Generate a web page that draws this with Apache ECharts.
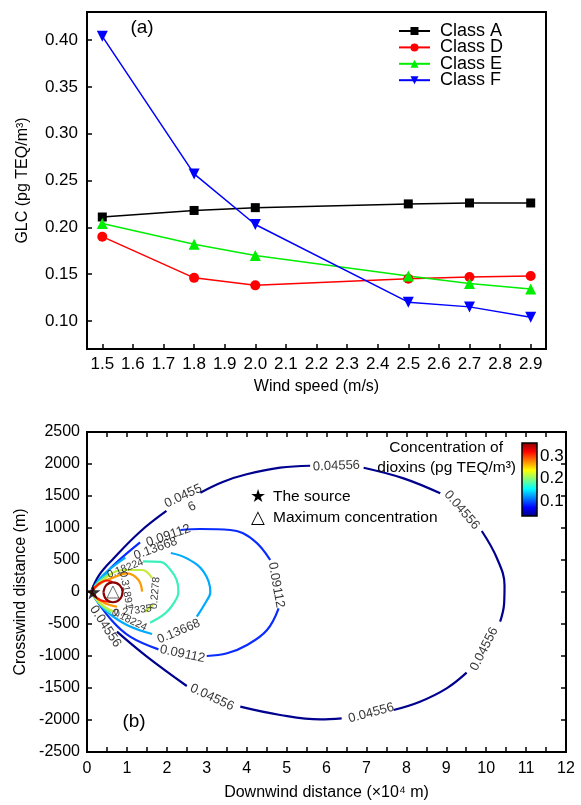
<!DOCTYPE html>
<html>
<head>
<meta charset="utf-8">
<script src="https://cdn.jsdelivr.net/npm/echarts@6/dist/echarts.min.js"></script>
<style>
  html, body { margin: 0; padding: 0; background: #fff; }
  #main { width: 581px; height: 805px; }
</style>
</head>
<body>
<div id="main"></div>
<script>
// ---- panel (a): ground level concentration vs wind speed
var windSpeed = [1.5, 1.8, 2.0, 2.5, 2.7, 2.9];
var classA = [0.211, 0.218, 0.221, 0.225, 0.226, 0.226];
var classD = [0.190, 0.146, 0.138, 0.145, 0.147, 0.148];
var classE = [0.204, 0.182, 0.170, 0.148, 0.140, 0.134];
var classF = [0.404, 0.257, 0.203, 0.120, 0.115, 0.104];
var windTicks = [1.5, 1.6, 1.7, 1.8, 1.9, 2.0, 2.1, 2.2, 2.3, 2.4, 2.5, 2.6, 2.7, 2.8, 2.9];
var glcTicks = [0.10, 0.15, 0.20, 0.25, 0.30, 0.35, 0.40];

// ---- panel (b): contour lines, [downwind (x10^4 m), crosswind (m)], one list per visible piece
var levels = [0.04556, 0.09112, 0.13668, 0.18224, 0.2278, 0.27335, 0.31891, 0.36447];
var contour04556 = [
  [[0.1, 0], [0.3, 260], [0.67, 527], [1.33, 942], [1.99, 1266]],
  [[2.84, 1552], [3.4, 1720], [4.0, 1839], [4.84, 1942], [5.59, 1973]],
  [[6.93, 1942], [7.93, 1776], [8.85, 1542]],
  [[9.89, 953], [10.27, 527], [10.46, 100], [10.45, -177], [10.35, -464]],
  [[9.51, -1260], [9.01, -1505], [8.34, -1714], [7.68, -1844]],
  [[6.38, -1974], [5.84, -1990], [4.84, -1922], [3.84, -1792]],
  [[2.5, -1469], [1.5, -1010], [0.75, -620]]
];
var contour09112 = [
  [[0.1, 0], [0.3, 170], [0.67, 422], [1.33, 776]],
  [[2.34, 969], [2.84, 984], [3.59, 969], [4.17, 812], [4.59, 500]],
  [[4.80, -255], [4.51, -594], [4.01, -828], [3.51, -958], [3.0, -1000]],
  [[1.79, -896], [1.08, -698], [0.6, -430], [0.1, 0]]
];
var contour13668 = [
  [[0.1, 0], [0.4, 260], [0.96, 536]],
  [[2.1, 610], [2.5, 526], [2.92, 318], [3.09, 0], [2.96, -177], [2.75, -385]],
  [[1.63, -656], [1.0, -516], [0.45, -280], [0.1, 0]]
];
var contour18224 = [
  [[0.1, 0], [0.3, 160], [0.55, 290]],
  [[1.4, 478], [1.84, 470], [2.1, 340], [2.25, 180], [2.29, 0], [2.17, -177], [1.96, -333], [1.58, -479]],
  [[0.6, -330], [0.3, -170], [0.1, 0]]
];
var contour2278 = [
  [[0.1, 0], [0.35, 170], [0.91, 344], [1.38, 344], [1.63, 219]],
  [[1.65, -200], [1.45, -310]],
  [[0.65, -300], [0.35, -190], [0.1, 0]]
];
var contour27335 = [
  [[0.1, 0], [0.35, 140], [0.71, 239], [1.0, 292], [1.29, 188], [1.38, 5]],
  [[0.1, 0], [0.4, -160], [0.75, -230]]
];
var contour31891 = [
  [[0.1, 0], [0.28, 120], [0.5, 180], [0.63, 156]],
  [[0.1, 0], [0.33, -125], [0.58, -150]]
];
var contour36447 = [
  [[0.41, 0], [0.48, 105], [0.65, 150], [0.82, 105], [0.89, 0], [0.82, -115], [0.65, -160], [0.48, -115], [0.41, 0]]
];
// contour labels: text, x, y, angle
var contourLabels = [
  ['0.0455', 2.41, 1500, 25], ['6', 2.63, 1333, 25],
  ['0.04556', 6.25, 1969, 2], ['0.04556', 9.39, 1281, -49],
  ['0.04556', 9.95, -891, 63], ['0.04556', 7.12, -1891, 15],
  ['0.04556', 3.13, -1648, -25], ['0.04556', 0.46, -539, -57],
  ['0.09112', 2.04, 880, 19], ['0.09112', 4.74, 109, -80], ['0.09112', 2.39, -969, -12],
  ['0.13668', 1.72, 680, 20], ['0.13668', 2.30, -617, 23],
  ['0.18224', 0.96, 367, 21], ['0.18224', 1.06, -437, -26],
  ['0.2278', 1.71, -16, 85], ['0.27335', 1.15, -297, 8], ['0.31891', 0.98, 30, -80]
];
var sourcePoint = [[0.15, 0]];
var maxPoint = [[0.65, 0]];
var colorTicks = [0.1, 0.2, 0.3];

var FONT = '"Liberation Sans", Arial, sans-serif';
var contourSets = [contour04556, contour09112, contour13668, contour18224, contour2278, contour27335, contour31891, contour36447];
var contourColors = ['#00008f', '#0a2cff', '#00aaff', '#3cf0bc', '#c4ec3c', '#ff9a00', '#ff1a00', '#8b0000'];
var jetStops = [
  { offset: 0, color: '#00007f' }, { offset: 0.125, color: '#0000ff' },
  { offset: 0.375, color: '#00ffff' }, { offset: 0.625, color: '#ffff00' },
  { offset: 0.875, color: '#ff0000' }, { offset: 1, color: '#7f0000' }
];

var chart = echarts.init(document.getElementById('main'), null, { renderer: 'canvas' });

function pairs(xs, ys) {
  return xs.map(function (x, i) { return [x, ys[i]]; });
}

var blackLine = { onZero: false, lineStyle: { color: '#000', width: 2 } };
var inTick = { inside: true, length: 5, lineStyle: { color: '#000', width: 1.5 } };

var series = [];
var lineDefs = [
  { name: 'Class A', data: classA, color: '#000000', symbol: 'rect', size: 9, rot: 0 },
  { name: 'Class D', data: classD, color: '#ff0000', symbol: 'circle', size: 10, rot: 0 },
  { name: 'Class E', data: classE, color: '#00ee00', symbol: 'triangle', size: 11, rot: 0 },
  { name: 'Class F', data: classF, color: '#0000ff', symbol: 'triangle', size: 11, rot: 180 }
];
lineDefs.forEach(function (d) {
  series.push({
    name: d.name, type: 'line', xAxisIndex: 0, yAxisIndex: 0,
    data: pairs(windSpeed, d.data),
    symbol: d.symbol, symbolSize: d.size, symbolRotate: d.rot,
    itemStyle: { color: d.color }, lineStyle: { color: d.color, width: 1.5 },
    silent: true, animation: false
  });
});

contourSets.forEach(function (set, k) {
  set.forEach(function (seg) {
    series.push({
      type: 'line', xAxisIndex: 1, yAxisIndex: 1, data: seg,
      showSymbol: false, symbol: 'none', smooth: 0.4,
      lineStyle: { color: contourColors[k], width: 2.2 },
      silent: true, animation: false, z: 3
    });
  });
});

series.push({
  type: 'scatter', xAxisIndex: 1, yAxisIndex: 1, symbolSize: 0, silent: true, animation: false, z: 6,
  data: contourLabels.map(function (l) {
    var big = l[0] === '0.04556' || l[0] === '0.0455' || l[0] === '6' || l[0] === '0.09112';
    var mid = l[0] === '0.13668';
    return {
      value: [l[1], l[2]], name: l[0],
      label: { rotate: l[3], fontSize: big ? 13 : (mid ? 12.5 : 10.5) }
    };
  }),
  label: { show: true, position: 'inside', formatter: '{b}', color: '#000', fontFamily: FONT }
});

series.push({
  type: 'scatter', xAxisIndex: 1, yAxisIndex: 1, data: sourcePoint, silent: true, animation: false, z: 8,
  symbol: 'path://M50,0 L61,35 L98,35 L68,57 L79,91 L50,70 L21,91 L32,57 L2,35 L39,35 Z',
  symbolSize: 15, itemStyle: { color: '#000' }
});
series.push({
  type: 'scatter', xAxisIndex: 1, yAxisIndex: 1, data: maxPoint, silent: true, animation: false, z: 8,
  symbol: 'triangle', symbolSize: 12,
  itemStyle: { color: '#fff', borderColor: '#444', borderWidth: 1 }
});

var tickLabel = { color: '#000', fontSize: 17, fontFamily: FONT };
var nameStyle = { fontSize: 16, color: '#000', fontFamily: FONT };

var option = {
  backgroundColor: '#fff',
  animation: false,
  textStyle: { fontFamily: FONT },
  grid: [
    { left: 87, top: 12, width: 459, height: 337, show: true, borderColor: '#000', borderWidth: 2 },
    { left: 87, top: 432, width: 479, height: 320, show: true, borderColor: '#000', borderWidth: 2 },
    { left: 522, top: 443, width: 15, height: 73 }
  ],
  legend: {
    data: ['Class A', 'Class D', 'Class E', 'Class F'],
    orient: 'vertical', left: 398, top: 22, padding: 0,
    itemWidth: 31, itemHeight: 10, itemGap: -1.6,
    textStyle: { fontSize: 18, color: '#000', fontFamily: FONT, lineHeight: 16, padding: [0, 0, 0, 5] },
    selectedMode: false
  },
  xAxis: [
    {
      gridIndex: 0, type: 'value', min: 1.45, max: 2.95,
      name: 'Wind speed (m/s)', nameLocation: 'middle', nameGap: 30, nameTextStyle: nameStyle,
      axisLine: blackLine,
      axisTick: Object.assign({ customValues: windTicks }, inTick),
      axisLabel: Object.assign({ customValues: windTicks, margin: 7, formatter: function (v) { return v.toFixed(1); } }, tickLabel),
      splitLine: { show: false }
    },
    {
      gridIndex: 1, type: 'value', min: 0, max: 12, interval: 0.5,
      name: 'Downwind distance (\u00d710\u2074 m)', nameLocation: 'middle', nameGap: 33, nameTextStyle: nameStyle,
      axisLine: blackLine, axisTick: inTick,
      axisLabel: Object.assign({ margin: 9, formatter: function (v) { return Number.isInteger(v) ? String(v) : ''; } }, tickLabel, { fontSize: 16 }),
      splitLine: { show: false }
    },
    {
      gridIndex: 1, type: 'value', min: 0, max: 12, interval: 0.5, position: 'top',
      axisLine: blackLine, axisTick: inTick,
      axisLabel: { show: false }, splitLine: { show: false }
    },
    { gridIndex: 2, type: 'value', min: 0, max: 1, show: false }
  ],
  yAxis: [
    {
      gridIndex: 0, type: 'value', min: 0.07, max: 0.43,
      name: 'GLC (pg TEQ/m\u00b3)', nameLocation: 'middle', nameGap: 56, nameTextStyle: nameStyle,
      axisLine: blackLine,
      axisTick: Object.assign({ customValues: glcTicks }, inTick),
      axisLabel: Object.assign({ customValues: glcTicks, margin: 9, formatter: function (v) { return v.toFixed(2); } }, tickLabel),
      splitLine: { show: false }
    },
    {
      gridIndex: 1, type: 'value', min: -2500, max: 2500, interval: 500,
      name: 'Crosswind distance (m)', nameLocation: 'middle', nameGap: 46, nameTextStyle: nameStyle,
      axisLine: blackLine, axisTick: inTick,
      axisLabel: Object.assign({ margin: 7, formatter: function (v) { return String(v); } }, tickLabel, { fontSize: 16 }),
      splitLine: { show: false }
    },
    {
      gridIndex: 1, type: 'value', min: -2500, max: 2500, interval: 500, position: 'right',
      axisLine: blackLine, axisTick: inTick,
      axisLabel: { show: false }, splitLine: { show: false }
    },
    {
      gridIndex: 2, type: 'value', min: 0.035, max: 0.357, position: 'right',
      axisLine: { show: false }, axisTick: { show: false }, splitLine: { show: false },
      axisLabel: Object.assign({ customValues: colorTicks, margin: 3, formatter: function (v) { return v.toFixed(1); } }, tickLabel, { fontSize: 17 })
    }
  ],
  graphic: [
    {
      type: 'rect', z: 10, silent: true,
      shape: { x: 522, y: 443, width: 15, height: 73 },
      style: { fill: new echarts.graphic.LinearGradient(0, 1, 0, 0, jetStops), stroke: '#000', lineWidth: 1.5 }
    },
    { type: 'text', z: 10, x: 142, y: 28, style: { text: '(a)', fontSize: 19, fontFamily: FONT, fill: '#000', align: 'center', verticalAlign: 'middle' } },
    { type: 'text', z: 10, x: 134, y: 722, style: { text: '(b)', fontSize: 19, fontFamily: FONT, fill: '#000', align: 'center', verticalAlign: 'middle' } },
    { type: 'text', z: 10, x: 503, y: 448, style: { text: 'Concentration of', fontSize: 15.5, fontFamily: FONT, fill: '#000', align: 'right', verticalAlign: 'middle' } },
    { type: 'text', z: 10, x: 516, y: 468, style: { text: 'dioxins (pg TEQ/m\u00b3)', fontSize: 15.5, fontFamily: FONT, fill: '#000', align: 'right', verticalAlign: 'middle' } },
    { type: 'text', z: 10, x: 258, y: 497, style: { text: '\u2605', fontSize: 18, fontFamily: '"DejaVu Sans"', fill: '#000', align: 'center', verticalAlign: 'middle' } },
    { type: 'text', z: 10, x: 273, y: 497, style: { text: 'The source', fontSize: 15.5, fontFamily: FONT, fill: '#000', align: 'left', verticalAlign: 'middle' } },
    { type: 'text', z: 10, x: 258, y: 518, style: { text: '\u25b3', fontSize: 18, fontFamily: '"DejaVu Sans"', fill: '#000', align: 'center', verticalAlign: 'middle' } },
    { type: 'text', z: 10, x: 273, y: 518, style: { text: 'Maximum concentration', fontSize: 15.5, fontFamily: FONT, fill: '#000', align: 'left', verticalAlign: 'middle' } }
  ],
  series: series
};

chart.setOption(option);
</script>
</body>
</html>
